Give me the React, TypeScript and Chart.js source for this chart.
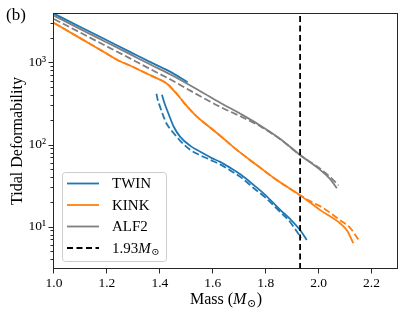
import React, { useEffect, useRef } from "react";
import { Chart, registerables } from "chart.js";

Chart.register(...registerables);

const FONT = '"Liberation Serif", "DejaVu Serif", serif';

// ---- Data (mass in solar masses, tidal deformability) ----
const twinMass1 = [1.0, 1.1, 1.2, 1.289, 1.364, 1.442, 1.505];
const twinLambda1 = [3926, 2704, 1862, 1336, 1009, 762, 575];

const twinMass2 = [1.408, 1.417, 1.427, 1.44, 1.452, 1.477, 1.515, 1.553, 1.591, 1.628, 1.666, 1.704, 1.754, 1.798, 1.855, 1.892, 1.93, 1.955];
const twinLambda2 = [404, 323, 265, 206, 166, 124, 96.4, 81.5, 69.8, 61.5, 52, 43.4, 32.3, 24.4, 16.0, 12.4, 9.1, 6.9];

const twinDashMass2 = [1.387, 1.392, 1.402, 1.414, 1.428, 1.452, 1.477, 1.515, 1.553, 1.591, 1.628, 1.666, 1.704, 1.754, 1.798, 1.855, 1.892, 1.919, 1.934];
const twinDashLambda2 = [415, 351, 281, 219, 174, 138, 111, 86, 73.8, 65, 57.3, 48.4, 40.4, 29.6, 22.7, 15.1, 11.4, 8.6, 7.3];

const kinkMass = [1.0, 1.1, 1.2, 1.238, 1.289, 1.364, 1.414, 1.432, 1.452, 1.47, 1.49, 1.515, 1.54, 1.565, 1.591, 1.628, 1.691, 1.767, 1.842, 1.93, 2.006, 2.081, 2.108, 2.131];
const kinkLambda = [3020, 1963, 1276, 1079, 911, 698, 586, 535, 458, 393, 327, 265, 219, 187, 160, 128, 86, 56, 36.9, 24.2, 15.9, 11.0, 8.9, 6.3];

const kinkDashMass = [1.0, 1.1, 1.2, 1.238, 1.289, 1.364, 1.414, 1.432, 1.452, 1.47, 1.49, 1.515, 1.54, 1.565, 1.591, 1.628, 1.691, 1.767, 1.842, 1.93, 1.97, 2.018, 2.081, 2.12, 2.15];
const kinkDashLambda = [3020, 1963, 1276, 1079, 911, 698, 586, 535, 458, 393, 327, 265, 219, 187, 160, 128, 86, 56, 36.9, 24.2, 20.3, 16.8, 12.0, 9.6, 7.0];

const alf2Mass = [1.0, 1.1, 1.2, 1.289, 1.364, 1.442, 1.553, 1.628, 1.704, 1.779, 1.855, 1.93, 2.006, 2.043, 2.069];
const alf2Lambda = [3715, 2546, 1750, 1252, 942, 708, 446, 323, 237, 171, 117, 74.5, 49.1, 38.2, 29.4];

const alf2DashMass = [1.0, 1.1, 1.2, 1.289, 1.364, 1.442, 1.553, 1.628, 1.704, 1.779, 1.855, 1.93, 2.006, 2.043, 2.075];
const alf2DashLambda = [3383, 2301, 1567, 1112, 828, 615, 387, 288, 221, 167, 116, 74.5, 50.6, 40.4, 31.8];

const cutoffMass = 1.93;

const xTickValues = [1.0, 1.2, 1.4, 1.6, 1.8, 2.0, 2.2];
const yMajorTicks = [10, 100, 1000];
const yMinorTicks = [4, 5, 6, 7, 8, 9, 20, 30, 40, 50, 60, 70, 80, 90, 200, 300, 400, 500, 600, 700, 800, 900, 2000, 3000];
const xMin = 1.0;
const xMax = 2.3;
const yMin = 3.05;
const yMax = 4000;

const legendNames = ["TWIN", "KINK", "ALF2", "1.93"];

const BLUE = "#1f77b4";
const ORANGE = "#ff7f0e";
const GRAY = "#7f7f7f";
const LW = 1.8;
const DASH = [7, 3];

const SUP: Record<number, string> = { 0: "⁰", 1: "¹", 2: "²", 3: "³", 4: "⁴" };

function pts(m: number[], l: number[]) {
  return m.map((x, i) => ({ x, y: l[i] }));
}

const decorPlugin = {
  id: "decor",
  afterDraw(chart: any) {
    const { ctx, chartArea: a, scales } = chart;
    const xs = scales.x;
    const ys = scales.y;
    const L = Math.round(a.left) - 0.5;
    const R = Math.round(a.right) - 0.5;
    const T = Math.round(a.top) + 0.5;
    const B = Math.round(a.bottom) - 0.5;
    ctx.save();
    ctx.strokeStyle = "#262626";
    ctx.lineWidth = 1;
    ctx.setLineDash([]);
    ctx.strokeRect(L, T, R - L, B - T);
    ctx.beginPath();
    for (const v of xTickValues) {
      const px = Math.round(xs.getPixelForValue(v)) - 0.5;
      ctx.moveTo(px, B);
      ctx.lineTo(px, B + 5);
    }
    for (const v of yMajorTicks.concat(yMinorTicks)) {
      if (v < yMin || v > yMax) continue;
      const len = yMajorTicks.includes(v) ? 5 : 3;
      const py = Math.round(ys.getPixelForValue(v)) + 0.5;
      ctx.moveTo(L, py);
      ctx.lineTo(L - len, py);
    }
    ctx.stroke();

    ctx.fillStyle = "#000";
    ctx.font = `17px ${FONT}`;
    ctx.textBaseline = "middle";
    ctx.textAlign = "left";
    ctx.fillText("(b)", 6, 16);

    const cx = (a.left + a.right) / 2;
    const by = 304;
    ctx.textBaseline = "alphabetic";
    const p1 = "Mass (";
    ctx.font = `16px ${FONT}`;
    const w1 = ctx.measureText(p1).width;
    ctx.font = `italic 16px ${FONT}`;
    const w2 = ctx.measureText("M").width;
    ctx.font = `11px ${FONT}`;
    const w3 = ctx.measureText("⊙").width;
    ctx.font = `16px ${FONT}`;
    const w4 = ctx.measureText(")").width;
    let sx = cx - (w1 + w2 + w3 + w4 + 1) / 2;
    ctx.fillText(p1, sx, by);
    sx += w1;
    ctx.font = `italic 16px ${FONT}`;
    ctx.fillText("M", sx, by);
    sx += w2 + 0.5;
    ctx.font = `11px ${FONT}`;
    ctx.fillText("⊙", sx, by + 3);
    sx += w3 + 0.5;
    ctx.font = `16px ${FONT}`;
    ctx.fillText(")", sx, by);

    const bx = 62, byTop = 172, bw = 104, bh = 89;
    ctx.beginPath();
    (ctx as any).roundRect(bx + 0.5, byTop + 0.5, bw, bh, 3);
    ctx.fillStyle = "rgba(255,255,255,0.8)";
    ctx.fill();
    ctx.strokeStyle = "#cccccc";
    ctx.lineWidth = 1;
    ctx.stroke();
    const rows = [183.5, 205, 226.5, 248];
    legendNames.forEach((name, i) => {
      const ds = chart.data.datasets.find((d: any) => d.legendLabel === name);
      if (!ds) return;
      const yy = rows[i];
      ctx.beginPath();
      ctx.strokeStyle = ds.borderColor;
      ctx.lineWidth = ds.borderWidth;
      ctx.setLineDash(ds.borderDash || []);
      ctx.moveTo(67, yy);
      ctx.lineTo(99, yy);
      ctx.stroke();
      ctx.setLineDash([]);
      ctx.fillStyle = "#000";
      ctx.textBaseline = "middle";
      ctx.font = `15px ${FONT}`;
      ctx.fillText(name, 112, yy + 1);
      if (ds.legendMsun) {
        let tx = 112 + ctx.measureText(name).width;
        ctx.font = `italic 15px ${FONT}`;
        ctx.fillText("M", tx, yy + 1);
        tx += ctx.measureText("M").width + 0.5;
        ctx.font = `10px ${FONT}`;
        ctx.fillText("⊙", tx, yy + 4);
      }
    });
    ctx.restore();
  },
};

export default function App() {
  const ref = useRef<HTMLCanvasElement | null>(null);
  useEffect(() => {
    const canvas = ref.current;
    if (!canvas) return;
    const lineDs = (label: string, data: any[], color: string, dashed: boolean, legendLabel?: string) => ({
      label,
      legendLabel,
      data,
      borderColor: color,
      backgroundColor: color,
      borderWidth: LW,
      borderDash: dashed ? DASH : [],
      pointRadius: 0,
      fill: false,
      cubicInterpolationMode: "monotone",
    });
    const datasets: any[] = [
      {
        ...lineDs("1.93 Msun", [{ x: cutoffMass, y: yMin }, { x: cutoffMass, y: yMax }], "#000", true, "1.93"),
        borderDash: [6, 3.5],
        cubicInterpolationMode: "default",
        tension: 0,
        legendMsun: true,
      },
      lineDs("TWIN", pts(twinMass1, twinLambda1), BLUE, false, "TWIN"),
      lineDs("TWIN (2)", pts(twinMass2, twinLambda2), BLUE, false),
      lineDs("TWIN dashed", pts(twinDashMass2, twinDashLambda2), BLUE, true),
      lineDs("KINK", pts(kinkMass, kinkLambda), ORANGE, false, "KINK"),
      lineDs("KINK dashed", pts(kinkDashMass, kinkDashLambda), ORANGE, true),
      lineDs("ALF2", pts(alf2Mass, alf2Lambda), GRAY, false, "ALF2"),
      lineDs("ALF2 dashed", pts(alf2DashMass, alf2DashLambda), GRAY, true),
    ];
    const chart = new Chart(canvas, {
      type: "line",
      data: { datasets },
      options: {
        animation: false,
        responsive: false,
        devicePixelRatio: 1,
        layout: { padding: { left: 0, right: 10, top: 13, bottom: 0 } },
        plugins: {
          legend: { display: false },
          tooltip: { enabled: false },
          title: { display: false },
        },
        scales: {
          x: {
            type: "linear",
            min: xMin,
            max: xMax,
            afterBuildTicks: (s: any) => {
              s.ticks = xTickValues.map((v) => ({ value: v }));
            },
            afterFit: (s: any) => {
              s.height = 47;
              s.paddingLeft = 0;
              s.paddingRight = 0;
            },
            ticks: {
              autoSkip: false,
              maxRotation: 0,
              color: "#000",
              padding: 6,
              font: { family: FONT, size: 13.5 },
              callback: (v: any) => Number(v).toFixed(1),
            },
            grid: { display: false, drawTicks: false, tickLength: 0 },
            border: { display: false },
          },
          y: {
            type: "logarithmic",
            min: yMin,
            max: yMax,
            afterBuildTicks: (s: any) => {
              s.ticks = yMajorTicks
                .concat(yMinorTicks)
                .filter((v) => v >= yMin && v <= yMax)
                .sort((p, q) => p - q)
                .map((v) => ({ value: v }));
            },
            afterFit: (s: any) => {
              s.width = 54;
              s.paddingTop = 0;
              s.paddingBottom = 0;
            },
            ticks: {
              autoSkip: false,
              color: "#000",
              padding: 8,
              font: { family: FONT, size: 13.5 },
              callback: (v: any) =>
                yMajorTicks.includes(v) ? "10" + SUP[Math.round(Math.log10(v))] : "",
            },
            grid: { display: false, drawTicks: false, tickLength: 0 },
            border: { display: false },
            title: {
              display: true,
              text: "Tidal Deformability",
              color: "#000",
              font: { family: FONT, size: 16 },
              padding: { top: 8, bottom: 0 },
            },
          },
        },
      } as any,
      plugins: [decorPlugin],
    });
    return () => chart.destroy();
  }, []);
  return (
    <div style={{ position: "absolute", left: 0, top: 0, width: 408, height: 316, background: "#fff" }}>
      <canvas ref={ref} width={408} height={316} style={{ display: "block" }} />
    </div>
  );
}
